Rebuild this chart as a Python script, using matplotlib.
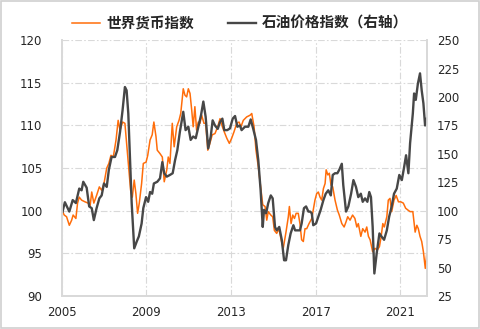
import matplotlib
matplotlib.use("Agg")
import matplotlib.pyplot as plt
from matplotlib.patches import Rectangle

# 世界货币指数 (left axis)
fx_years = [2005.03, 2005.11, 2005.22, 2005.35, 2005.46, 2005.53, 2005.66, 2005.74, 2005.82, 2005.93,
            2006.09, 2006.24, 2006.33, 2006.41, 2006.51, 2006.64, 2006.77, 2006.88, 2006.99, 2007.12,
            2007.22, 2007.32, 2007.43, 2007.56, 2007.66, 2007.75, 2007.87, 2007.98, 2008.06, 2008.17,
            2008.25, 2008.33, 2008.42, 2008.50, 2008.58, 2008.66, 2008.77, 2008.85, 2008.98, 2009.06,
            2009.17, 2009.27, 2009.35, 2009.45, 2009.51, 2009.64, 2009.75, 2009.84, 2009.96, 2010.03,
            2010.11, 2010.22, 2010.31, 2010.43, 2010.54, 2010.62, 2010.74, 2010.82, 2010.90, 2010.98,
            2011.06, 2011.14, 2011.21, 2011.29, 2011.37, 2011.45, 2011.53, 2011.61, 2011.72, 2011.80,
            2011.90, 2012.00, 2012.11, 2012.24, 2012.37, 2012.48, 2012.59, 2012.68, 2012.80, 2012.92,
            2013.03, 2013.14, 2013.27, 2013.38, 2013.47, 2013.58, 2013.74, 2013.90, 2013.98, 2014.09,
            2014.18, 2014.29, 2014.40, 2014.50, 2014.61, 2014.69, 2014.76, 2014.88, 2014.97, 2015.05,
            2015.16, 2015.27, 2015.37, 2015.47, 2015.60, 2015.71, 2015.76, 2015.84, 2015.92, 2016.00,
            2016.08, 2016.18, 2016.26, 2016.34, 2016.42, 2016.50, 2016.58, 2016.69, 2016.82, 2016.89,
            2016.97, 2017.05, 2017.13, 2017.21, 2017.29, 2017.37, 2017.45, 2017.50, 2017.58, 2017.65,
            2017.73, 2017.81, 2017.92, 2018.03, 2018.12, 2018.24, 2018.35, 2018.44, 2018.52, 2018.63,
            2018.75, 2018.86, 2018.95, 2019.02, 2019.14, 2019.23, 2019.34, 2019.42, 2019.50, 2019.58,
            2019.70, 2019.81, 2019.92, 2020.02, 2020.10, 2020.18, 2020.25, 2020.37, 2020.44, 2020.52,
            2020.60, 2020.71, 2020.81, 2020.92, 2021.03, 2021.15, 2021.26, 2021.36, 2021.47, 2021.60,
            2021.71, 2021.79, 2021.86, 2021.94, 2022.02, 2022.10, 2022.19, 2022.26]
fx_values = [99.9, 99.5, 99.3, 98.3, 98.9, 99.5, 99.1, 100.9, 101.6, 101.25,
             101.05, 100.9, 100.5, 102.2, 100.9, 101.8, 102.8, 102.4, 103.2, 105.0,
             105.55, 106.5, 106.3, 108.3, 110.6, 109.45, 110.4, 110.25, 107.9, 104.8,
             102.4, 101.6, 103.6, 102.0, 99.7, 100.9, 103.2, 105.55, 105.7, 106.5,
             108.3, 108.9, 110.4, 108.7, 107.1, 106.7, 106.3, 103.4, 104.8, 106.3,
             105.55, 110.25, 107.5, 109.85, 110.6, 111.4, 114.3, 113.55, 113.35, 114.3,
             113.75, 111.8, 109.85, 112.2, 109.45, 110.4, 110.25, 111.2, 110.25, 110.25,
             107.1, 107.9, 108.9, 109.05, 109.85, 110.8, 109.85, 109.25, 108.5, 107.9,
             108.5, 109.25, 110.25, 110.4, 109.85, 110.6, 111.0, 111.2, 111.4, 109.85,
             107.1, 105.15, 102.8, 100.7, 100.5, 98.9, 99.9, 99.5, 99.3, 97.7,
             97.35, 97.9, 96.6, 95.6, 97.5, 99.3, 100.5, 98.5, 99.5, 99.1,
             99.7, 99.7, 98.5, 96.6, 96.4, 97.9, 97.9, 98.5, 99.1, 100.1,
             101.25, 102.0, 102.2, 101.6, 101.25, 102.6, 103.2, 104.8, 104.2, 104.4,
             103.0, 102.8, 101.25, 100.1, 99.5, 98.5, 98.1, 98.7, 99.3, 98.9,
             99.5, 99.1, 98.1, 98.5, 97.0, 97.9, 97.5, 98.1, 97.0, 96.6,
             95.2, 95.6, 95.4, 95.8, 96.95, 98.5, 98.1, 99.3, 101.25, 101.45,
             99.9, 101.25, 101.8, 101.05, 101.05, 100.9, 100.3, 100.1, 99.9, 99.9,
             97.5, 98.3, 97.9, 97.0, 96.4, 95.2, 93.25, 95.0]

# 石油价格指数 (right axis)
oil_years = [2005.03, 2005.14, 2005.35, 2005.51, 2005.66, 2005.82, 2005.93, 2006.01, 2006.17, 2006.29,
             2006.41, 2006.51, 2006.64, 2006.77, 2006.88, 2006.99, 2007.12, 2007.22, 2007.35, 2007.51,
             2007.62, 2007.75, 2007.87, 2007.98, 2008.06, 2008.14, 2008.22, 2008.30, 2008.42, 2008.54,
             2008.64, 2008.77, 2008.85, 2008.98, 2009.08, 2009.17, 2009.27, 2009.35, 2009.51, 2009.64,
             2009.75, 2009.84, 2009.96, 2010.11, 2010.24, 2010.35, 2010.46, 2010.58, 2010.74, 2010.85,
             2010.98, 2011.09, 2011.21, 2011.33, 2011.45, 2011.58, 2011.69, 2011.80, 2011.92, 2012.04,
             2012.13, 2012.24, 2012.37, 2012.48, 2012.59, 2012.68, 2012.82, 2012.95, 2013.08, 2013.19,
             2013.30, 2013.42, 2013.50, 2013.66, 2013.82, 2013.93, 2014.05, 2014.18, 2014.29, 2014.40,
             2014.50, 2014.56, 2014.66, 2014.76, 2014.88, 2014.97, 2015.08, 2015.16, 2015.28, 2015.40,
             2015.51, 2015.60, 2015.71, 2015.82, 2015.95, 2016.03, 2016.14, 2016.26, 2016.34, 2016.45,
             2016.55, 2016.66, 2016.74, 2016.82, 2016.89, 2017.02, 2017.13, 2017.24, 2017.37, 2017.48,
             2017.60, 2017.72, 2017.81, 2017.92, 2018.03, 2018.12, 2018.24, 2018.31, 2018.44, 2018.55,
             2018.68, 2018.79, 2018.91, 2019.02, 2019.14, 2019.23, 2019.34, 2019.45, 2019.54, 2019.62,
             2019.70, 2019.78, 2019.89, 2020.02, 2020.13, 2020.24, 2020.37, 2020.48, 2020.60, 2020.71,
             2020.84, 2020.96, 2021.08, 2021.19, 2021.28, 2021.39, 2021.47, 2021.60, 2021.66, 2021.74,
             2021.84, 2021.94, 2022.02, 2022.10, 2022.18, 2022.26]
oil_values = [99.3, 107.5, 99.3, 109.4, 106.8, 119.5, 118.0, 125.5, 120.3, 103.8,
              102.3, 91.8, 102.3, 110.9, 113.5, 124.0, 121.0, 136.0, 147.3, 147.3,
              153.3, 169.4, 188.5, 208.8, 205.8, 185.5, 147.3, 106.8, 67.0, 73.0,
              77.5, 88.8, 102.3, 112.0, 107.9, 116.5, 115.0, 124.0, 125.5, 128.5,
              142.8, 133.0, 130.0, 131.5, 133.0, 144.3, 153.3, 169.4, 187.0, 170.9,
              173.9, 162.3, 165.3, 163.8, 173.5, 184.0, 196.0, 182.5, 154.8, 165.3,
              179.5, 175.0, 172.0, 178.0, 181.0, 170.9, 170.9, 172.4, 181.0, 183.3,
              173.9, 175.0, 170.9, 173.9, 173.9, 180.3, 172.0, 162.3, 144.3, 118.0,
              85.8, 100.8, 97.8, 106.8, 113.5, 110.9, 85.8, 82.8, 85.8, 74.5,
              56.5, 56.5, 70.0, 80.1, 87.3, 82.8, 82.8, 82.8, 88.8, 102.3,
              103.8, 99.3, 99.3, 97.8, 87.3, 88.8, 94.8, 100.8, 109.4, 115.0,
              118.0, 113.5, 131.5, 133.0, 133.0, 136.0, 141.3, 122.5, 99.3, 103.8,
              115.0, 127.0, 121.0, 112.0, 115.0, 107.9, 110.9, 107.9, 116.5, 112.0,
              85.8, 44.9, 62.5, 80.1, 77.1, 74.5, 82.8, 94.8, 103.8, 115.0,
              119.5, 131.5, 127.0, 138.6, 148.8, 133.0, 159.3, 185.5, 203.1, 197.5,
              211.8, 220.8, 205.8, 194.5, 175.0, 181.0]

x_ticks = [2005, 2009, 2013, 2017, 2021]
left_ticks = [90, 95, 100, 105, 110, 115, 120]
right_ticks = [25, 50, 75, 100, 125, 150, 175, 200, 225, 250]

ORANGE = "#FF6D0A"
GRAY = "#474747"
GRID = "#d9d9d9"

plt.rcParams['font.family'] = ['DejaVu Sans']

fig = plt.figure(figsize=(4.8, 3.29), dpi=100)
ax = fig.add_axes([0.129, 0.100, 0.761, 0.778])
ax2 = ax.twinx()

l1, = ax.plot(fx_years, fx_values, color=ORANGE, lw=1.1, label="世界货币指数", zorder=3)
l2, = ax2.plot(oil_years, oil_values, color=GRAY, lw=1.7, label="石油价格指数（右轴）", zorder=2)

ax.set_xlim(2005, 2022.28)
ax.set_ylim(90, 120)
ax2.set_ylim(25, 250)
ax.set_xticks(x_ticks)
ax.set_yticks(left_ticks)
ax2.set_yticks(right_ticks)

ax.grid(True, color=GRID, linestyle=(0, (6, 2, 1.5, 2)), lw=0.8)
ax.set_axisbelow(True)

for a in (ax, ax2):
    a.spines['top'].set_visible(False)
    for s in ('left', 'right', 'bottom'):
        a.spines[s].set_color(GRID)
        a.spines[s].set_linewidth(1.3)
    a.tick_params(length=0, labelsize=8.5, colors='#262626')

ax.tick_params(axis='y', pad=14)
ax.tick_params(axis='x', pad=7)
ax2.tick_params(axis='y', pad=7)

leg = fig.legend(handles=[l1, l2], loc='upper center', bbox_to_anchor=(0.5, 0.995), ncol=2,
                 frameon=False, handlelength=1.95, columnspacing=2.3, handletextpad=0.4,
                 prop={'family': ['Noto Sans CJK SC', 'DejaVu Sans'], 'size': 10.5, 'weight': 'bold'})
for t in leg.get_texts():
    t.set_color('#262626')

fig.patches.append(Rectangle((0.002, 0.002), 0.996, 0.994, transform=fig.transFigure,
                             fill=False, edgecolor='#d0d0d0', lw=1.2))

fig.savefig("out.png", dpi=100)
